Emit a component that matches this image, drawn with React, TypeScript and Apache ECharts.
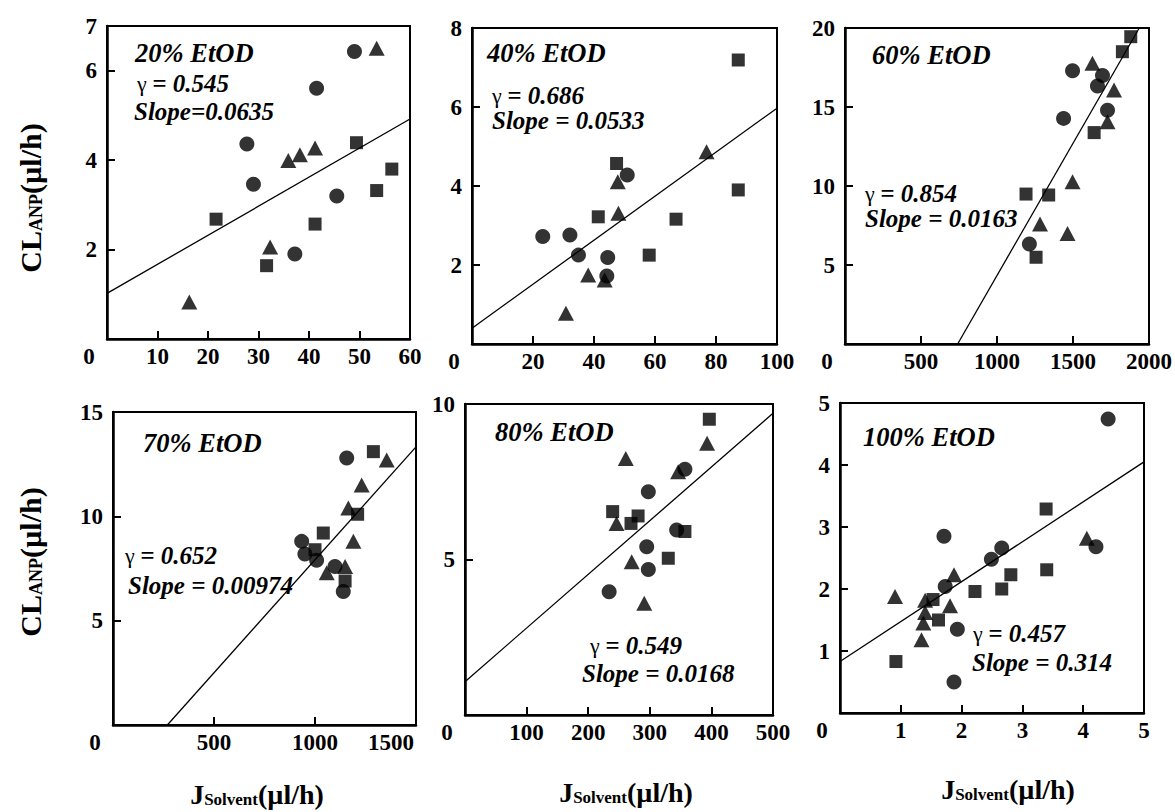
import React, { useEffect, useRef } from "react";
import * as echarts from "echarts";

const FONT = "Liberation Serif";

// ---------- data ----------
const panelNames = ["20% EtOD", "40% EtOD", "60% EtOD", "70% EtOD", "80% EtOD", "100% EtOD"];
const gammaValues = ["= 0.545", "= 0.686", "= 0.854", "= 0.652", "= 0.549", "= 0.457"];
const slopeTexts = ["Slope=0.0635", "Slope = 0.0533", "Slope = 0.0163", "Slope = 0.00974", "Slope = 0.0168", "Slope = 0.314"];

const xMax = [60, 100, 2000, 1500, 500, 5];
const xInterval = [10, 20, 500, 500, 100, 1];
const yMax = [7, 8, 20, 15, 10, 5];
const yInterval = [2, 2, 5, 5, 5, 1];

// 20% EtOD
const circles20 = [[49.0, 6.43], [41.5, 5.61], [27.7, 4.36], [29.0, 3.46], [45.5, 3.2], [37.2, 1.9]];
const squares20 = [[49.4, 4.39], [56.4, 3.8], [53.4, 3.32], [41.2, 2.57], [21.6, 2.68], [31.6, 1.64]];
const triangles20 = [[53.4, 6.5], [41.2, 4.27], [38.2, 4.12], [35.9, 3.99], [32.3, 2.06], [16.3, 0.83]];
const fit20 = [[0, 1.02], [60, 4.92]];

// 40% EtOD
const circles40 = [[50.9, 4.28], [23.2, 2.72], [32.1, 2.76], [34.9, 2.25], [44.5, 2.19], [44.2, 1.72]];
const squares40 = [[87.3, 7.19], [47.4, 4.57], [87.3, 3.9], [41.4, 3.22], [66.9, 3.16], [58.1, 2.25]];
const triangles40 = [[76.9, 4.87], [47.8, 4.11], [48.0, 3.31], [38.1, 1.75], [43.5, 1.62], [30.8, 0.78]];
const fit40 = [[0, 0.4], [100, 5.97]];

// 60% EtOD
const circles60 = [[1497, 17.3], [1694, 17.0], [1661, 16.33], [1727, 14.8], [1438, 14.28], [1213, 6.33]];
const squares60 = [[1880, 19.45], [1825, 18.5], [1639, 13.38], [1191, 9.49], [1340, 9.43], [1257, 5.49]];
const triangles60 = [[1628, 17.77], [1770, 16.08], [1727, 14.07], [1497, 10.27], [1283, 7.59], [1464, 7.0]];
const fit60 = [[741, 0], [1936, 20]];

// 70% EtOD
const circles70 = [[1157, 12.8], [934, 8.8], [950, 8.2], [1008, 7.9], [1099, 7.6], [1140, 6.4]];
const squares70 = [[1289, 13.1], [1211, 10.1], [1041, 9.2], [1000, 8.4], [1149, 6.9]];
const triangles70 = [[1355, 12.7], [1231, 11.5], [1165, 10.4], [1190, 8.8], [1058, 7.3], [1149, 7.6]];
const fit70 = [[269, 0], [1500, 13.33]];

// 80% EtOD
const circles80 = [[357, 7.9], [297.6, 7.18], [343.6, 5.95], [295, 5.41], [297.6, 4.68], [234, 3.96]];
const squares80 = [[396.6, 9.51], [239.7, 6.54], [281, 6.4], [269.5, 6.16], [357, 5.9], [330, 5.04]];
const triangles80 = [[393, 8.74], [261, 8.25], [346, 7.82], [246, 6.16], [270.6, 4.93], [291, 3.59]];
const fit80 = [[0, 1.07], [500, 9.7]];

// 100% EtOD
const circles100 = [[4.41, 4.74], [1.71, 2.85], [4.21, 2.68], [2.66, 2.66], [2.49, 2.48], [1.73, 2.04], [1.93, 1.35], [1.875, 0.5]];
const squares100 = [[3.39, 3.29], [3.4, 2.31], [2.81, 2.23], [2.22, 1.96], [2.66, 2.0], [1.53, 1.83], [1.62, 1.5], [0.92, 0.83]];
const triangles100 = [[4.06, 2.82], [1.875, 2.23], [0.905, 1.88], [1.4, 1.82], [1.81, 1.73], [1.4, 1.62], [1.37, 1.45], [1.34, 1.18]];
const fit100 = [[0, 0.83], [5, 4.05]];

const circles = [circles20, circles40, circles60, circles70, circles80, circles100];
const squares = [squares20, squares40, squares60, squares70, squares80, squares100];
const triangles = [triangles20, triangles40, triangles60, triangles70, triangles80, triangles100];
const fits = [fit20, fit40, fit60, fit70, fit80, fit100];

const yTitleParts = ["CL", "ANP", "(µl/h)"];
const xTitleParts = ["J", "Solvent", "(µl/h)"];

// ---------- layout ----------
const grids = [
  { left: 107, top: 26, width: 303, height: 313 },
  { left: 472, top: 28, width: 305, height: 316 },
  { left: 845, top: 28, width: 305, height: 316 },
  { left: 113, top: 412, width: 303, height: 313 },
  { left: 465, top: 404, width: 308, height: 311 },
  { left: 840, top: 403, width: 304, height: 310 },
];

// [name, gamma, slope] text anchor positions (left x, middle y)
const annotPos = [
  [[135, 53], [137, 83], [134, 111]],
  [[487, 53], [492, 95], [492, 120]],
  [[872, 55], [865, 193], [865, 218]],
  [[143, 443], [125, 555], [128, 585]],
  [[495, 432], [590, 645], [582, 673]],
  [[863, 437], [973, 633], [972, 662]],
];

const yTitlePos = [[28, 198], [28, 562]];
const xTitlePos = [[257, 792], [626, 790], [1008, 787]];

const boldItalic = { fontFamily: FONT, fontWeight: "bold", fontStyle: "italic", fontSize: 25, fill: "#000" };

function buildOption() {
  const grid = grids.map((g) => ({
    ...g,
    show: true,
    borderColor: "#000",
    borderWidth: 2,
    backgroundColor: "transparent",
  }));

  const labelBase = { color: "#000", fontSize: 23, fontWeight: "bold", fontFamily: FONT };

  const xAxis = grids.map((_, i) => ({
    type: "value",
    gridIndex: i,
    min: 0,
    max: xMax[i],
    interval: xInterval[i],
    axisLine: { show: true, onZero: false, lineStyle: { color: "#000", width: 2.5 } },
    axisTick: { show: true, inside: true, length: 8, lineStyle: { color: "#000", width: 2 } },
    splitLine: { show: false },
    axisLabel: {
      ...labelBase,
      margin: 6,
      showMinLabel: true,
      showMaxLabel: true,
      formatter: (v: number) => {
        if (v === 0) return "{z|0}";
        if (i === 3 && v === xMax[i]) return "{m|" + v + "}";
        return String(v);
      },
      rich: {
        z: { ...labelBase, padding: [0, 36, 0, 0] },
        m: { ...labelBase, padding: [0, 50, 0, 0] },
      },
    },
  }));

  const yAxis = grids.map((_, i) => ({
    type: "value",
    gridIndex: i,
    min: 0,
    max: yMax[i],
    interval: yInterval[i],
    axisLine: { show: true, onZero: false, lineStyle: { color: "#000", width: 2.5 } },
    axisTick: { show: true, inside: true, length: 8, lineStyle: { color: "#000", width: 2 } },
    splitLine: { show: false },
    axisLabel: {
      ...labelBase,
      margin: 10,
      showMaxLabel: true,
      formatter: (v: number) => (v === 0 ? "" : String(v)),
    },
  }));

  const series: any[] = [];
  grids.forEach((_, i) => {
    series.push({
      type: "line",
      xAxisIndex: i,
      yAxisIndex: i,
      data: fits[i],
      symbol: "none",
      lineStyle: { color: "#000", width: 1.3 },
      z: 1,
      silent: true,
    });
    series.push({
      type: "scatter",
      xAxisIndex: i,
      yAxisIndex: i,
      data: triangles[i],
      symbol: "triangle",
      symbolSize: [16, 15],
      itemStyle: { color: "#000" },
      z: 2,
    });
    series.push({
      type: "scatter",
      xAxisIndex: i,
      yAxisIndex: i,
      data: squares[i],
      symbol: "rect",
      symbolSize: 13,
      itemStyle: { color: "#000" },
      z: 3,
    });
    series.push({
      type: "scatter",
      xAxisIndex: i,
      yAxisIndex: i,
      data: circles[i],
      symbol: "circle",
      symbolSize: 15,
      itemStyle: { color: "#000" },
      z: 4,
    });
  });

  const graphic: any[] = [];
  grids.forEach((_, i) => {
    const [p0, p1, p2] = annotPos[i];
    graphic.push({
      type: "text",
      x: p0[0],
      y: p0[1],
      style: { ...boldItalic, fontSize: 26.5, text: panelNames[i], align: "left", verticalAlign: "middle" },
    });
    graphic.push({
      type: "text",
      x: p1[0],
      y: p1[1],
      style: {
        text: "{g|γ} {b|" + gammaValues[i] + "}",
        fontFamily: FONT,
        fontSize: 22,
        align: "left",
        verticalAlign: "middle",
        rich: {
          g: { fontFamily: FONT, fontSize: 22, fill: "#000", fontWeight: "normal" },
          b: { ...boldItalic },
        },
      },
    });
    graphic.push({
      type: "text",
      x: p2[0],
      y: p2[1],
      style: { ...boldItalic, text: slopeTexts[i], align: "left", verticalAlign: "middle" },
    });
  });

  const titleRich = {
    a: { fontFamily: FONT, fontWeight: "bold", fontSize: 30, fill: "#000", lineHeight: 34, verticalAlign: "bottom" },
    s: { fontFamily: FONT, fontWeight: "bold", fontSize: 18, fill: "#000", lineHeight: 12, verticalAlign: "bottom" },
  };

  yTitlePos.forEach(([x, y]) => {
    graphic.push({
      type: "text",
      x,
      y,
      rotation: Math.PI / 2,
      style: {
        text: "{a|" + yTitleParts[0] + "}{s|" + yTitleParts[1] + "}{a|" + yTitleParts[2] + "}",
        fontFamily: FONT,
        align: "center",
        verticalAlign: "middle",
        rich: titleRich,
      },
    });
  });

  const xTitleRich = {
    a: { fontFamily: FONT, fontWeight: "bold", fontSize: 28, fill: "#000", lineHeight: 32, verticalAlign: "bottom" },
    s: { fontFamily: FONT, fontWeight: "bold", fontSize: 17, fill: "#000", lineHeight: 11, verticalAlign: "bottom" },
  };

  xTitlePos.forEach(([x, y]) => {
    graphic.push({
      type: "text",
      x,
      y,
      style: {
        text: "{a|" + xTitleParts[0] + "}{s|" + xTitleParts[1] + "}{a|" + xTitleParts[2] + "}",
        fontFamily: FONT,
        align: "center",
        verticalAlign: "middle",
        rich: xTitleRich,
      },
    });
  });

  return {
    animation: false,
    backgroundColor: "#fff",
    textStyle: { fontFamily: FONT },
    grid,
    xAxis,
    yAxis,
    series,
    graphic,
  };
}

export default function App() {
  const ref = useRef<HTMLDivElement>(null);
  useEffect(() => {
    if (!ref.current) return;
    const chart = echarts.init(ref.current, null, { renderer: "svg" });
    chart.setOption(buildOption() as any);
    return () => {
      chart.dispose();
    };
  }, []);
  return (
    <div
      ref={ref}
      style={{ position: "absolute", left: 0, top: 0, width: 1175, height: 812, background: "#fff" }}
    />
  );
}
